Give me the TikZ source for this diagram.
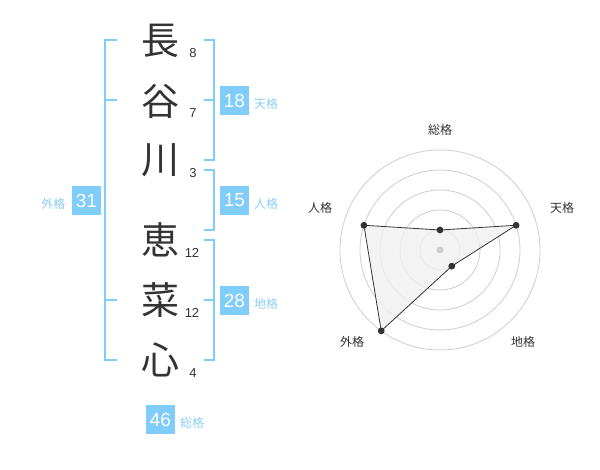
\documentclass[tikz,border=0pt]{standalone}
\usepackage{fontspec}
\setmainfont{Noto Sans CJK JP}
\newfontfamily\digitfont{Liberation Sans}
\usetikzlibrary{positioning}
\definecolor{kakuBlue}{RGB}{128,204,250}
\definecolor{kakuText}{RGB}{140,205,245}
\definecolor{inkGray}{RGB}{51,51,51}
\definecolor{ringGray}{RGB}{205,205,205}
\definecolor{areaGray}{RGB}{240,240,240}
\tikzset{
  kanji/.style={font=\fontsize{38}{38}\selectfont, text=inkGray, inner sep=0pt},
  strokes/.style={font=\digitfont\fontsize{13}{13}\selectfont, text=inkGray, inner sep=0pt},
  kakubox/.style={fill=kakuBlue, text=white, minimum size=29pt, inner sep=0pt, font=\digitfont\fontsize{19}{19}\selectfont},
  kakulabel/.style={text=kakuText, font=\fontsize{12}{12}\selectfont, inner sep=0pt},
  bracket/.style={draw=kakuBlue, line width=1.5pt},
  axislabel/.style={text=inkGray, font=\fontsize{12}{12}\selectfont, inner sep=0pt},
  ring/.style={draw=ringGray, line width=0.8pt},
  dot/.style={fill=inkGray}
}
\begin{document}
\begin{tikzpicture}[x=1pt,y=-1pt]
\useasboundingbox (0,0) rectangle (600,470);
% name
\node[kanji] (c1) at (160,41) {長};
\node[kanji] (c2) at (160,101) {谷};
\node[kanji] (c3) at (160,160) {川};
\node[kanji] (c4) at (160,240) {恵};
\node[kanji] (c5) at (160,300) {菜};
\node[kanji] (c6) at (160,360) {心};
\node[strokes] (n1) at (193,53) {8};
\node[strokes] (n2) at (193,113) {7};
\node[strokes] (n3) at (193,173) {3};
\node[strokes] (n4) at (192,253) {12};
\node[strokes] (n5) at (192,313) {12};
\node[strokes] (n6) at (193,373) {4};
% brackets
\draw[bracket] (117,40) -| (105,360) -- (117,360);
\draw[bracket] (105,100) -- (117,100);
\draw[bracket] (105,300) -- (117,300);
\draw[bracket] (204,40) -| (214,160) -- (204,160);
\draw[bracket] (204,100) -- (214,100);
\draw[bracket] (204,170) -| (214,230) -- (204,230);
\draw[bracket] (204,240) -| (214,360) -- (204,360);
\draw[bracket] (204,300) -- (214,300);
% kaku
\node[kakubox] (ten) at (234.5,100.5) {18};
\node[kakulabel] (tenL) at (266,104) {天格};
\node[kakubox] (jin) at (234.5,200.5) {15};
\node[kakulabel] (jinL) at (266,204) {人格};
\node[kakubox] (chi) at (234.5,300.5) {28};
\node[kakulabel] (chiL) at (266,304) {地格};
\node[kakubox] (gai) at (86.5,200.5) {31};
\node[kakulabel] (gaiL) at (53.5,204) {外格};
\node[kakubox] (sou) at (160.5,419.5) {46};
\node[kakulabel] (souL) at (192,423) {総格};
% radar
\begin{scope}[shift={(440,250)}]
\foreach \r in {20,40,...,100}
  \draw[ring] (0,0) circle [radius=\r pt];
\coordinate (pSou) at (90:20pt);
\coordinate (pTen) at (18:80pt);
\coordinate (pChi) at (-54:20pt);
\coordinate (pGai) at (-126:100pt);
\coordinate (pJin) at (162:80pt);
\fill[areaGray, opacity=0.8] (pSou) -- (pTen) -- (pChi) -- (pGai) -- (pJin) -- cycle;
\draw[inkGray, line width=0.8pt] (pSou) -- (pTen) -- (pChi) -- (pGai) -- (pJin) -- cycle;
\fill[ringGray] (0,0) circle [radius=3.5pt];
\foreach \p in {pSou,pTen,pChi,pGai,pJin}
  \fill[dot] (\p) circle [radius=3.4pt];
\end{scope}
\node[axislabel] (aSou) at (440,130) {総格};
\node[axislabel] (aTen) at (562,208) {天格};
\node[axislabel] (aJin) at (320,208) {人格};
\node[axislabel] (aGai) at (352,342) {外格};
\node[axislabel] (aChi) at (523,342) {地格};
\end{tikzpicture}
\end{document}
